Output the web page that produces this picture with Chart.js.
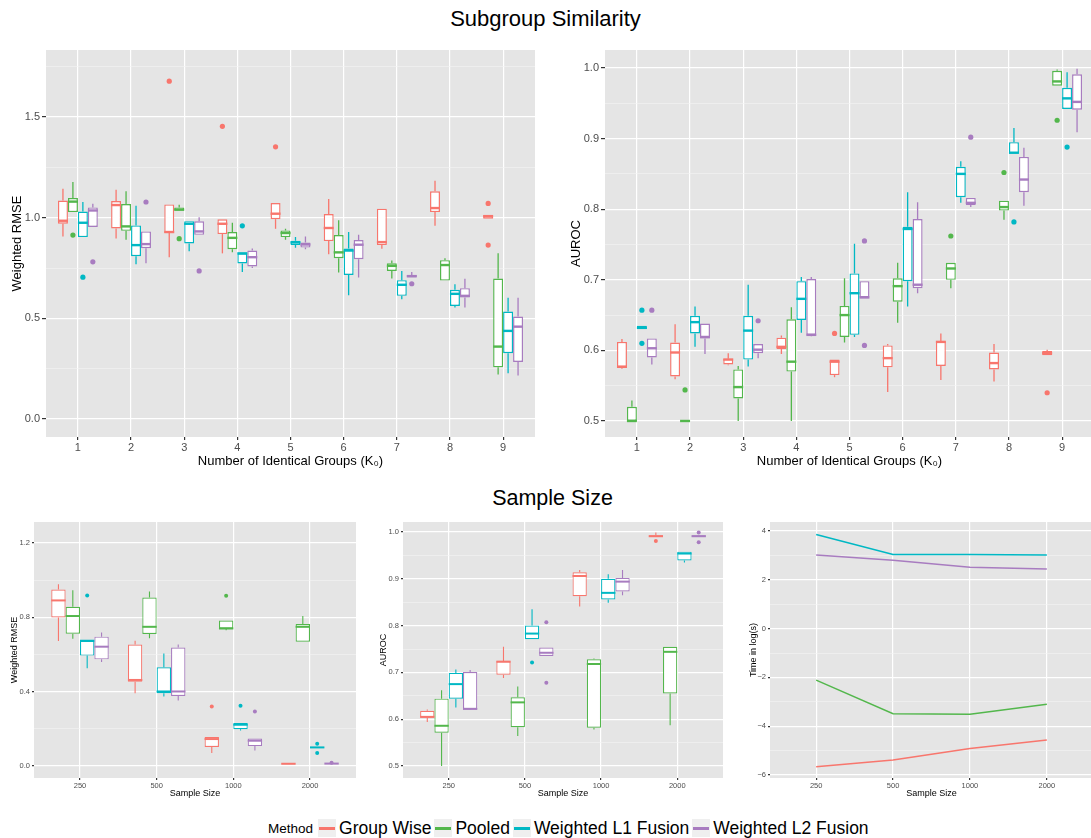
<!DOCTYPE html>
<html>
<head>
    <title>Subgroup Similarity / Sample Size</title>
    <script src="https://cdn.jsdelivr.net/npm/chart.js"></script>
    <style>
        body {
            margin: 0;
            width: 1091px;
            height: 838px;
            position: relative;
            overflow: hidden;
            background: #fff;
            font-family: "Liberation Sans", Arial, sans-serif;
        }
        canvas { position: absolute; }
        .title {
            position: absolute;
            left: 0;
            width: 1091px;
            text-align: center;
            color: #000;
        }
        #legend {
            position: absolute;
            left: 268px;
            top: 818px;
            height: 20px;
            display: flex;
            align-items: center;
            white-space: nowrap;
        }
        #legend .lgTitle { font-size: 13.5px; margin-right: 5px; }
        #legend .key {
            width: 18px;
            height: 18px;
            background: #EFEFEF;
            position: relative;
            margin-right: 3px;
        }
        #legend .key i {
            position: absolute;
            left: 1px;
            right: 1px;
            top: 8px;
            height: 3px;
        }
        #legend .lab { font-size: 17.5px; margin-right: 3px; }
    </style>
</head>
<body>
    <div class="title" style="top:6px; font-size:22px;">Subgroup Similarity</div>
    <div class="title" style="top:486px; font-size:21.5px; left:7px;">Sample Size</div>

    <canvas id="simRmseChart" width="540" height="444" style="left:0; top:40px;"></canvas>
    <canvas id="simAurocChart" width="540" height="444" style="left:560px; top:40px;"></canvas>
    <canvas id="ssRmseChart" width="362" height="290" style="left:0; top:512px;"></canvas>
    <canvas id="ssAurocChart" width="361" height="290" style="left:368px; top:512px;"></canvas>
    <canvas id="ssTimeChart" width="369" height="290" style="left:730px; top:512px;"></canvas>

    <div id="legend"></div>

    <script>
        const methods = ['Group Wise', 'Pooled', 'Weighted L1 Fusion', 'Weighted L2 Fusion'];
        const methodColors = ['#F8766D', '#53B74C', '#00B8C4', '#A87CC0'];

        const groupsK0 = ['1', '2', '3', '4', '5', '6', '7', '8', '9'];
        const sampleSizes = ['250', '500', '1000', '2000'];

        // box stats per category: [lower whisker, Q1, median, Q3, upper whisker]
        // --- Subgroup similarity, weighted RMSE
        const simRmseGroupWise = [[0.907, 0.970, 0.985, 1.085, 1.144], [0.897, 0.947, 1.063, 1.083, 1.139], [0.804, 0.924, 0.929, 1.066, 1.066],
            [0.823, 0.919, 0.970, 0.992, 0.992], [0.945, 0.993, 1.020, 1.073, 1.073], [0.819, 0.884, 0.949, 1.018, 1.093],
            [0.846, 0.864, 0.879, 1.045, 1.045], [0.960, 1.028, 1.048, 1.131, 1.184], [0.995, 0.995, 1.007, 1.015, 1.015]];
        const simRmseGroupWiseOut = [[], [], [1.678], [1.454], [1.352], [], [], [], [1.071, 0.864]];
        const simRmsePooled = [[1.028, 1.028, 1.080, 1.098, 1.177], [0.891, 0.935, 0.957, 1.068, 1.131], [1.036, 1.036, 1.040, 1.051, 1.065],
            [0.829, 0.844, 0.900, 0.929, 0.975], [0.891, 0.904, 0.924, 0.937, 0.945], [0.728, 0.799, 0.828, 0.914, 0.988],
            [0.698, 0.736, 0.761, 0.774, 0.788], [0.688, 0.688, 0.765, 0.789, 0.799], [0.222, 0.257, 0.360, 0.698, 0.824]];
        const simRmsePooledOut = [[0.914], [], [0.896], [], [], [], [], [], []];
        const simRmseL1 = [[0.904, 0.904, 0.975, 1.031, 1.078], [0.769, 0.809, 0.864, 0.962, 1.060], [0.833, 0.872, 0.970, 0.983, 0.983],
            [0.730, 0.773, 0.823, 0.823, 0.823], [0.851, 0.864, 0.877, 0.886, 0.904], [0.615, 0.716, 0.837, 0.847, 0.929],
            [0.595, 0.612, 0.667, 0.690, 0.736], [0.554, 0.562, 0.622, 0.642, 0.670], [0.227, 0.327, 0.438, 0.534, 0.602]];
        const simRmseL1Out = [[0.705], [], [], [0.960], [], [], [], [], []];
        const simRmseL2 = [[0.954, 0.954, 1.036, 1.051, 1.070], [0.774, 0.849, 0.869, 0.932, 0.932], [0.915, 0.915, 0.932, 0.982, 1.002],
            [0.750, 0.758, 0.804, 0.837, 0.847], [0.844, 0.852, 0.867, 0.877, 0.907], [0.703, 0.794, 0.866, 0.889, 0.915],
            [0.703, 0.703, 0.710, 0.716, 0.730], [0.554, 0.604, 0.612, 0.650, 0.697], [0.217, 0.284, 0.459, 0.509, 0.602]];
        const simRmseL2Out = [[0.781], [1.078], [0.736], [], [], [], [0.672], [], []];

        // --- Subgroup similarity, AUROC
        const simAurocGroupWise = [[0.574, 0.575, 0.577, 0.612, 0.616], [0.559, 0.563, 0.597, 0.611, 0.637], [0.579, 0.580, 0.587, 0.588, 0.596],
            [0.595, 0.602, 0.605, 0.618, 0.621], [0.562, 0.565, 0.584, 0.587, 0.587], [0.541, 0.576, 0.589, 0.607, 0.609],
            [0.558, 0.578, 0.612, 0.613, 0.624], [0.556, 0.573, 0.582, 0.597, 0.609], [0.593, 0.593, 0.596, 0.599, 0.601]];
        const simAurocGroupWiseOut = [[], [], [], [], [0.624], [], [], [], [0.540]];
        const simAurocPooled = [[0.500, 0.500, 0.500, 0.520, 0.529], [0.500, 0.500, 0.500, 0.500, 0.500], [0.500, 0.532, 0.548, 0.573, 0.578],
            [0.500, 0.570, 0.584, 0.644, 0.661], [0.611, 0.619, 0.650, 0.663, 0.702], [0.639, 0.669, 0.691, 0.702, 0.724],
            [0.688, 0.700, 0.716, 0.724, 0.724], [0.785, 0.798, 0.803, 0.812, 0.812], [0.975, 0.975, 0.981, 0.996, 0.998]];
        const simAurocPooledOut = [[], [0.544], [], [], [], [], [0.762], [0.852], [0.926]];
        const simAurocL1 = [[0.630, 0.630, 0.632, 0.635, 0.635], [0.605, 0.624, 0.640, 0.649, 0.662], [0.577, 0.587, 0.628, 0.649, 0.693],
            [0.625, 0.643, 0.673, 0.698, 0.704], [0.619, 0.622, 0.681, 0.709, 0.751], [0.662, 0.698, 0.772, 0.775, 0.824],
            [0.809, 0.817, 0.850, 0.860, 0.868], [0.879, 0.879, 0.880, 0.895, 0.915], [0.942, 0.942, 0.957, 0.972, 0.994]];
        const simAurocL1Out = [[0.657, 0.610], [], [], [], [], [], [], [0.782], [0.888]];
        const simAurocL2 = [[0.580, 0.590, 0.603, 0.617, 0.617], [0.595, 0.617, 0.619, 0.638, 0.638], [0.589, 0.596, 0.601, 0.609, 0.609],
            [0.620, 0.622, 0.622, 0.701, 0.704], [0.675, 0.675, 0.675, 0.698, 0.698], [0.681, 0.688, 0.693, 0.786, 0.810],
            [0.803, 0.806, 0.809, 0.816, 0.816], [0.805, 0.824, 0.842, 0.874, 0.887], [0.909, 0.941, 0.952, 0.991, 0.999]];
        const simAurocL2Out = [[0.657], [], [0.642], [], [0.755, 0.607], [], [0.902], [], []];

        // --- Sample size, weighted RMSE
        const ssRmseGroupWise = [[0.672, 0.799, 0.891, 0.950, 0.978], [0.392, 0.454, 0.463, 0.654, 0.674], [0.070, 0.102, 0.145, 0.156, 0.156], [0.011, 0.011, 0.012, 0.014, 0.014]];
        const ssRmseGroupWiseOut = [[], [], [0.320], []];
        const ssRmsePooled = [[0.685, 0.712, 0.807, 0.857, 0.946], [0.687, 0.710, 0.749, 0.907, 0.939], [0.731, 0.740, 0.740, 0.783, 0.783], [0.669, 0.669, 0.749, 0.764, 0.807]];
        const ssRmsePooledOut = [[], [], [0.916], []];
        const ssRmseL1 = [[0.526, 0.594, 0.674, 0.674, 0.674], [0.374, 0.392, 0.401, 0.531, 0.606], [0.191, 0.198, 0.222, 0.231, 0.231], [0.098, 0.098, 0.100, 0.102, 0.102]];
        const ssRmseL1Out = [[0.917], [], [0.324], [0.120, 0.070]];
        const ssRmseL2 = [[0.560, 0.574, 0.642, 0.696, 0.719], [0.352, 0.377, 0.401, 0.637, 0.654], [0.084, 0.107, 0.136, 0.148, 0.148], [0.011, 0.012, 0.013, 0.014, 0.014]];
        const ssRmseL2Out = [[], [], [0.293], [0.017]];

        // --- Sample size, AUROC
        const ssAurocGroupWise = [[0.594, 0.603, 0.605, 0.618, 0.621], [0.688, 0.695, 0.723, 0.724, 0.755], [0.841, 0.863, 0.906, 0.914, 0.919], [0.990, 0.990, 0.991, 0.993, 0.999]];
        const ssAurocGroupWiseOut = [[], [], [], [0.981]];
        const ssAurocPooled = [[0.500, 0.571, 0.586, 0.644, 0.662], [0.564, 0.583, 0.636, 0.647, 0.670], [0.578, 0.582, 0.718, 0.728, 0.730], [0.587, 0.655, 0.744, 0.755, 0.755]];
        const ssAurocPooledOut = [[], [], [], []];
        const ssAurocL1 = [[0.625, 0.644, 0.675, 0.699, 0.706], [0.771, 0.771, 0.783, 0.800, 0.835], [0.849, 0.856, 0.870, 0.900, 0.910], [0.935, 0.939, 0.954, 0.958, 0.958]];
        const ssAurocL1Out = [[], [0.721], [], []];
        const ssAurocL2 = [[0.621, 0.622, 0.622, 0.701, 0.705], [0.735, 0.735, 0.742, 0.753, 0.753], [0.865, 0.873, 0.894, 0.902, 0.919], [0.990, 0.990, 0.991, 0.993, 0.993]];
        const ssAurocL2Out = [[], [0.807, 0.678], [], [0.999, 0.978]];

        // --- Sample size, time in log(s)
        const timeGroupWise = [-5.66, -5.39, -4.91, -4.57];
        const timePooled = [-2.11, -3.49, -3.51, -3.10];
        const timeL1 = [3.86, 3.04, 3.04, 3.02];
        const timeL2 = [3.02, 2.80, 2.51, 2.44];

        // axis ticks
        const simRmseMajor = [0.0, 0.5, 1.0, 1.5];
        const simRmseMinor = [0.25, 0.75, 1.25, 1.75];
        const simAurocMajor = [0.5, 0.6, 0.7, 0.8, 0.9, 1.0];
        const simAurocMinor = [0.55, 0.65, 0.75, 0.85, 0.95];
        const ssRmseMajor = [0.0, 0.4, 0.8, 1.2];
        const ssRmseMinor = [0.2, 0.6, 1.0];
        const ssAurocMajor = [0.5, 0.6, 0.7, 0.8, 0.9, 1.0];
        const ssAurocMinor = [0.55, 0.65, 0.75, 0.85, 0.95];
        const timeMajor = [-6, -4, -2, 0, 2, 4];
        const timeMinor = [-5, -3, -1, 1, 3];

        Chart.defaults.font.family = '"Liberation Sans", Arial, sans-serif';

        const fmtOne = v => v.toFixed(1);
        const fmtInt = v => (v < 0 ? '\u2212' : '') + Math.abs(v);

        // grey panel + box medians, whiskers and outliers
        const boxExtras = {
            id: 'boxExtras',
            beforeDraw(chart) {
                const a = chart.chartArea;
                const ctx = chart.ctx;
                ctx.save();
                ctx.fillStyle = '#E5E5E5';
                ctx.fillRect(a.left, a.top, a.right - a.left, a.bottom - a.top);
                ctx.restore();
            },
            afterDatasetsDraw(chart) {
                const ctx = chart.ctx;
                const y = chart.scales.y;
                const st = chart.options.boxStyle || {};
                chart.data.datasets.forEach((ds, di) => {
                    if (!ds.stats) return;
                    chart.getDatasetMeta(di).data.forEach((bar, i) => {
                        const s = ds.stats[i];
                        const x = bar.x, w = bar.width;
                        ctx.save();
                        ctx.strokeStyle = ds.borderColor;
                        ctx.fillStyle = ds.borderColor;
                        ctx.lineWidth = st.whisker;
                        ctx.beginPath();
                        ctx.moveTo(x, y.getPixelForValue(s[0]));
                        ctx.lineTo(x, y.getPixelForValue(s[1]));
                        ctx.moveTo(x, y.getPixelForValue(s[3]));
                        ctx.lineTo(x, y.getPixelForValue(s[4]));
                        ctx.stroke();
                        ctx.lineWidth = st.median;
                        ctx.beginPath();
                        ctx.moveTo(x - w / 2, y.getPixelForValue(s[2]));
                        ctx.lineTo(x + w / 2, y.getPixelForValue(s[2]));
                        ctx.stroke();
                        ds.outliers[i].forEach(v => {
                            ctx.beginPath();
                            ctx.arc(x, y.getPixelForValue(v), st.radius, 0, Math.PI * 2);
                            ctx.fill();
                        });
                        ctx.restore();
                    });
                });
            }
        };

        function yAxis(min, max, major, minor, fmt, label, size, titleSize, titlePad, width, tickLen) {
            const isMajor = v => major.includes(v);
            return {
                type: 'linear',
                min: min,
                max: max,
                afterBuildTicks: axis => {
                    axis.ticks = major.concat(minor).sort((a, b) => a - b).map(v => ({value: v}));
                },
                afterFit: axis => { axis.width = width; },
                ticks: {
                    color: '#4D4D4D',
                    font: {size: size},
                    padding: 2,
                    autoSkip: false,
                    callback: v => isMajor(v) ? fmt(v) : ''
                },
                grid: {
                    color: c => isMajor(c.tick.value) ? '#FFFFFF' : '#F3F3F3',
                    lineWidth: c => isMajor(c.tick.value) ? 1.2 : 0.6,
                    tickColor: c => isMajor(c.tick.value) ? '#333333' : 'rgba(0,0,0,0)',
                    tickLength: tickLen
                },
                border: {display: false},
                title: {display: true, text: label, color: '#000', font: {size: titleSize}, padding: {top: titlePad, bottom: 0}}
            };
        }

        function xAxis(labels, size, label, titleSize, titlePad, height, tickLen, tickPad) {
            return {
                type: 'linear',
                min: 0.4,
                max: labels.length + 0.6,
                offset: false,
                afterBuildTicks: axis => {
                    axis.ticks = labels.map((l, i) => ({value: i + 1}));
                },
                afterFit: axis => { axis.height = height; },
                ticks: {
                    color: '#4D4D4D',
                    font: {size: size},
                    padding: tickPad,
                    autoSkip: false,
                    maxRotation: 0,
                    callback: v => labels[v - 1]
                },
                grid: {color: '#FFFFFF', lineWidth: 1.2, tickColor: '#333333', tickLength: tickLen, offset: false},
                border: {display: false},
                title: {display: true, text: label, color: '#000', font: {size: titleSize}, padding: {top: 0, bottom: titlePad}}
            };
        }

        function boxSets(stats, outs, bw) {
            return stats.map((st, m) => ({
                label: methods[m],
                data: st.map((s, i) => ({x: i + 1, y: [s[1], s[3]]})),
                stats: st,
                outliers: outs[m],
                backgroundColor: '#FFFFFF',
                borderColor: methodColors[m],
                borderWidth: bw,
                borderSkipped: false,
                categoryPercentage: 0.75,
                barPercentage: 1.0
            }));
        }

        function baseOptions(padding, scales, boxStyle) {
            return {
                responsive: false,
                animation: false,
                devicePixelRatio: 1,
                layout: {padding: padding},
                plugins: {legend: {display: false}, tooltip: {enabled: false}},
                scales: scales,
                boxStyle: boxStyle
            };
        }

        const bigBox = {whisker: 1.3, median: 2.4, radius: 2.6};
        const smallBox = {whisker: 1.1, median: 2.0, radius: 2.0};

        new Chart(document.getElementById('simRmseChart'), {
            type: 'bar',
            data: {datasets: boxSets([simRmseGroupWise, simRmsePooled, simRmseL1, simRmseL2],
                [simRmseGroupWiseOut, simRmsePooledOut, simRmseL1Out, simRmseL2Out], 1.4)},
            options: baseOptions({top: 10, right: 5, left: 0, bottom: 0}, {
                x: xAxis(groupsK0, 11, 'Number of Identical Groups (K\u2080)', 13, 15, 47, 3, 1),
                y: yAxis(-0.089, 1.833, simRmseMajor, simRmseMinor, fmtOne, 'Weighted RMSE', 11, 13, 10, 46, 4)
            }, bigBox),
            plugins: [boxExtras]
        });

        new Chart(document.getElementById('simAurocChart'), {
            type: 'bar',
            data: {datasets: boxSets([simAurocGroupWise, simAurocPooled, simAurocL1, simAurocL2],
                [simAurocGroupWiseOut, simAurocPooledOut, simAurocL1Out, simAurocL2Out], 1.4)},
            options: baseOptions({top: 10, right: 6, left: 0, bottom: 0}, {
                x: xAxis(groupsK0, 11, 'Number of Identical Groups (K\u2080)', 13, 15, 47, 3, 1),
                y: yAxis(0.4773, 1.0255, simAurocMajor, simAurocMinor, fmtOne, 'AUROC', 11, 13, 9, 45, 4)
            }, bigBox),
            plugins: [boxExtras]
        });

        new Chart(document.getElementById('ssRmseChart'), {
            type: 'bar',
            data: {datasets: boxSets([ssRmseGroupWise, ssRmsePooled, ssRmseL1, ssRmseL2],
                [ssRmseGroupWiseOut, ssRmsePooledOut, ssRmseL1Out, ssRmseL2Out], 1.2)},
            options: baseOptions({top: 10, right: 6, left: 0, bottom: 0}, {
                x: xAxis(sampleSizes, 7.5, 'Sample Size', 9, 3.5, 24, 2, 1),
                y: yAxis(-0.0646, 1.313, ssRmseMajor, ssRmseMinor, fmtOne, 'Weighted RMSE', 7.5, 9, 9.5, 34, 2)
            }, smallBox),
            plugins: [boxExtras]
        });

        new Chart(document.getElementById('ssAurocChart'), {
            type: 'bar',
            data: {datasets: boxSets([ssAurocGroupWise, ssAurocPooled, ssAurocL1, ssAurocL2],
                [ssAurocGroupWiseOut, ssAurocPooledOut, ssAurocL1Out, ssAurocL2Out], 1.2)},
            options: baseOptions({top: 10, right: 6, left: 0, bottom: 0}, {
                x: xAxis(sampleSizes, 7.5, 'Sample Size', 9, 3.5, 24, 2, 1),
                y: yAxis(0.4744, 1.0214, ssAurocMajor, ssAurocMinor, fmtOne, 'AUROC', 7.5, 9, 10.5, 35, 2)
            }, smallBox),
            plugins: [boxExtras]
        });

        const timeSeries = [timeGroupWise, timePooled, timeL1, timeL2];
        new Chart(document.getElementById('ssTimeChart'), {
            type: 'line',
            data: {
                datasets: timeSeries.map((vals, m) => ({
                    label: methods[m],
                    data: vals.map((v, i) => ({x: i + 1, y: v})),
                    borderColor: methodColors[m],
                    borderWidth: 1.5,
                    pointRadius: 0,
                    tension: 0,
                    fill: false
                }))
            },
            options: baseOptions({top: 10, right: 6, left: 0, bottom: 0}, {
                x: xAxis(sampleSizes, 7.5, 'Sample Size', 9, 3.5, 24, 2, 1),
                y: yAxis(-6.123, 4.369, timeMajor, timeMinor, fmtInt, 'Time in log(s)', 7.5, 9, 18.5, 40, 2)
            }, smallBox),
            plugins: [boxExtras]
        });

        // legend
        const legend = document.getElementById('legend');
        let html = '<span class="lgTitle">Method</span>';
        methods.forEach((m, i) => {
            html += '<span class="key"><i style="background:' + methodColors[i] + '"></i></span><span class="lab">' + m + '</span>';
        });
        legend.innerHTML = html;
    </script>
</body>
</html>
